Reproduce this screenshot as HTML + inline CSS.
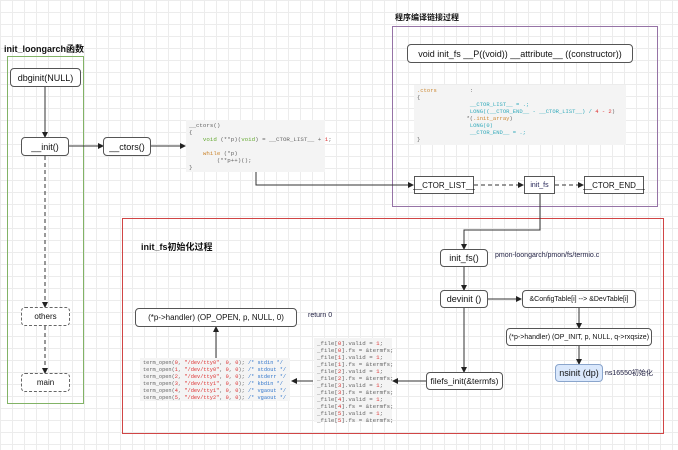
<!DOCTYPE html>
<html><head><meta charset="utf-8"><style>
*{margin:0;padding:0;box-sizing:border-box}
body{width:678px;height:450px;position:relative;overflow:hidden;background:#fff;
background-image:linear-gradient(#ececec 1px,transparent 1px),linear-gradient(90deg,#ececec 1px,transparent 1px);
background-size:12px 12px;font-family:"Liberation Sans","Noto Sans CJK SC",sans-serif;}
.a{position:absolute}
.b{position:absolute;border:1px solid #555;border-radius:4px;background:#fff;display:flex;align-items:center;justify-content:center;font-size:9px;color:#111;white-space:nowrap}
.d{border:1px dashed #666}
.s{border-radius:0}
.t{position:absolute;font-weight:bold;font-size:9px;color:#111;white-space:nowrap}
.code{position:absolute;background:#f4f4f4;font-family:"Liberation Mono",monospace;font-size:5.5px;line-height:7px;color:#666;white-space:pre;padding:2px 3px}
.r{color:#d33}.g{color:#6a3}.o{color:#c83}.c{color:#3ab}.bl{color:#37c}
</style></head><body>
<div class="t" style="left:4px;top:42px">init_loongarch函数</div>
<div class="a" style="left:7px;top:56px;width:77px;height:348px;border:1px solid #82b366"></div>
<div class="t" style="left:395px;top:12px;font-size:8px">程序编译链接过程</div>
<div class="a" style="left:392px;top:26px;width:266px;height:181px;border:1px solid #9673a6"></div>
<div class="a" style="left:122px;top:218px;width:542px;height:216px;border:1px solid #d04545"></div>
<div class="t" style="left:141px;top:240px">init_fs初始化过程</div>

<svg class="a" style="left:0;top:0" width="678" height="450">
<defs><marker id="m" markerWidth="6" markerHeight="6" refX="5" refY="3" orient="auto"><path d="M0,0L6,3L0,6z" fill="#222"/></marker></defs>
<g stroke="#333" stroke-width="1" fill="none">
<path d="M45,87V137" marker-end="url(#m)"/>
<path d="M69,146H103" marker-end="url(#m)"/>
<path d="M151,146H185" marker-end="url(#m)"/>
<path d="M45,156V307" stroke-dasharray="4,3" marker-end="url(#m)"/>
<path d="M45,326V373" stroke-dasharray="4,3" marker-end="url(#m)"/>
<path d="M256,172V185H413" marker-end="url(#m)"/>
<path d="M474,185H523" stroke-dasharray="4,3" marker-end="url(#m)"/>
<path d="M555,185H583" stroke-dasharray="4,3" marker-end="url(#m)"/>
<path d="M540,194V230H464V249" marker-end="url(#m)"/>
<path d="M464,266V290" marker-end="url(#m)"/>
<path d="M488,299H521" marker-end="url(#m)"/>
<path d="M579,308V328" marker-end="url(#m)"/>
<path d="M579,346V364" marker-end="url(#m)"/>
<path d="M464,308V372" marker-end="url(#m)"/>
<path d="M426,381H393" marker-end="url(#m)"/>
<path d="M313,381H292" marker-end="url(#m)"/>
<path d="M216,358V327" marker-end="url(#m)"/>
</g></svg>

<div class="b" style="left:10px;top:68px;width:71px;height:19px">dbginit(NULL)</div>
<div class="b" style="left:21px;top:137px;width:48px;height:19px">__init()</div>
<div class="b" style="left:103px;top:137px;width:48px;height:19px">__ctors()</div>
<div class="b d" style="left:21px;top:307px;width:49px;height:19px;font-size:8px">others</div>
<div class="b d" style="left:21px;top:373px;width:49px;height:19px;font-size:8px">main</div>
<div class="code" style="left:186px;top:120px;width:139px;height:52px;font-size:5.8px">__ctors()
{
    <span class="g">void</span> (**p)(<span class="g">void</span>) = __CTOR_LIST__ + <span class="r">1</span>;

    <span class="o">while</span> (*p)
        (**p++)();
}</div>

<div class="b" style="left:407px;top:44px;width:226px;height:19px;font-size:9px">void init_fs __P((void)) __attribute__ ((constructor))</div>
<div class="code" style="left:414px;top:85px;width:212px;height:60px"><span class="o">.ctors</span>          :
{
                <span class="c">__CTOR_LIST__ = .;</span>
                <span class="c">LONG((__CTOR_END__ - __CTOR_LIST__) / </span><span class="r">4 - 2</span>)
               *(<span class="o">.init_array</span>)
                <span class="c">LONG(0)</span>
                <span class="c">__CTOR_END__ = .;</span>
}</div>
<div class="b s" style="left:414px;top:176px;width:60px;height:18px;font-size:8px">__CTOR_LIST__</div>
<div class="b s" style="left:524px;top:176px;width:31px;height:18px;font-size:7px;color:#225">init_fs</div>
<div class="b s" style="left:584px;top:176px;width:60px;height:18px;font-size:8px">__CTOR_END__</div>

<div class="b" style="left:440px;top:249px;width:48px;height:18px">init_fs()</div>
<div class="a" style="left:495px;top:252px;font-size:7px;color:#224">pmon-loongarch/pmon/fs/termio.c</div>
<div class="b" style="left:440px;top:290px;width:48px;height:18px">devinit ()</div>
<div class="b" style="left:522px;top:290px;width:114px;height:18px;font-size:7px">&amp;ConfigTable[i] --&gt;  &amp;DevTable[i]</div>
<div class="b" style="left:506px;top:328px;width:146px;height:18px;font-size:7px">(*p-&gt;handler) (OP_INIT, p, NULL, q-&gt;rxqsize)</div>
<div class="b" style="left:555px;top:364px;width:48px;height:18px;background:#dae8fc;border-color:#8aa5cc">nsinit (dp)</div>
<div class="a" style="left:605px;top:368px;font-size:7px;color:#224">ns16550初始化</div>
<div class="b" style="left:426px;top:372px;width:77px;height:18px;font-size:8.5px">filefs_init(&amp;termfs)</div>
<div class="code" style="left:314px;top:338px;width:78px;height:84px;font-size:5.8px">_file[<span class="r">0</span>].valid = <span class="r">1</span>;
_file[<span class="r">0</span>].fs = &amp;termfs;
_file[<span class="r">1</span>].valid = <span class="r">1</span>;
_file[<span class="r">1</span>].fs = &amp;termfs;
_file[<span class="r">2</span>].valid = <span class="r">1</span>;
_file[<span class="r">2</span>].fs = &amp;termfs;
_file[<span class="r">3</span>].valid = <span class="r">1</span>;
_file[<span class="r">3</span>].fs = &amp;termfs;
_file[<span class="r">4</span>].valid = <span class="r">1</span>;
_file[<span class="r">4</span>].fs = &amp;termfs;
_file[<span class="r">5</span>].valid = <span class="r">1</span>;
_file[<span class="r">5</span>].fs = &amp;termfs;</div>
<div class="code" style="left:140px;top:358px;width:150px;height:43px;font-size:5.3px">term_open(<span class="r">0</span>, <span class="r">"/dev/tty0"</span>, <span class="r">0</span>, <span class="r">0</span>); <span class="bl">/* stdin */</span>
term_open(<span class="r">1</span>, <span class="r">"/dev/tty0"</span>, <span class="r">0</span>, <span class="r">0</span>); <span class="bl">/* stdout */</span>
term_open(<span class="r">2</span>, <span class="r">"/dev/tty0"</span>, <span class="r">0</span>, <span class="r">0</span>); <span class="bl">/* stderr */</span>
term_open(<span class="r">3</span>, <span class="r">"/dev/tty1"</span>, <span class="r">0</span>, <span class="r">0</span>); <span class="bl">/* kbdin */</span>
term_open(<span class="r">4</span>, <span class="r">"/dev/tty1"</span>, <span class="r">0</span>, <span class="r">0</span>); <span class="bl">/* vgaout */</span>
term_open(<span class="r">5</span>, <span class="r">"/dev/tty2"</span>, <span class="r">0</span>, <span class="r">0</span>); <span class="bl">/* vgaout */</span></div>
<div class="b" style="left:135px;top:308px;width:162px;height:19px;font-size:8px">(*p-&gt;handler) (OP_OPEN, p, NULL, 0)</div>
<div class="a" style="left:308px;top:312px;font-size:7px;color:#224">return 0</div>
</body></html>
